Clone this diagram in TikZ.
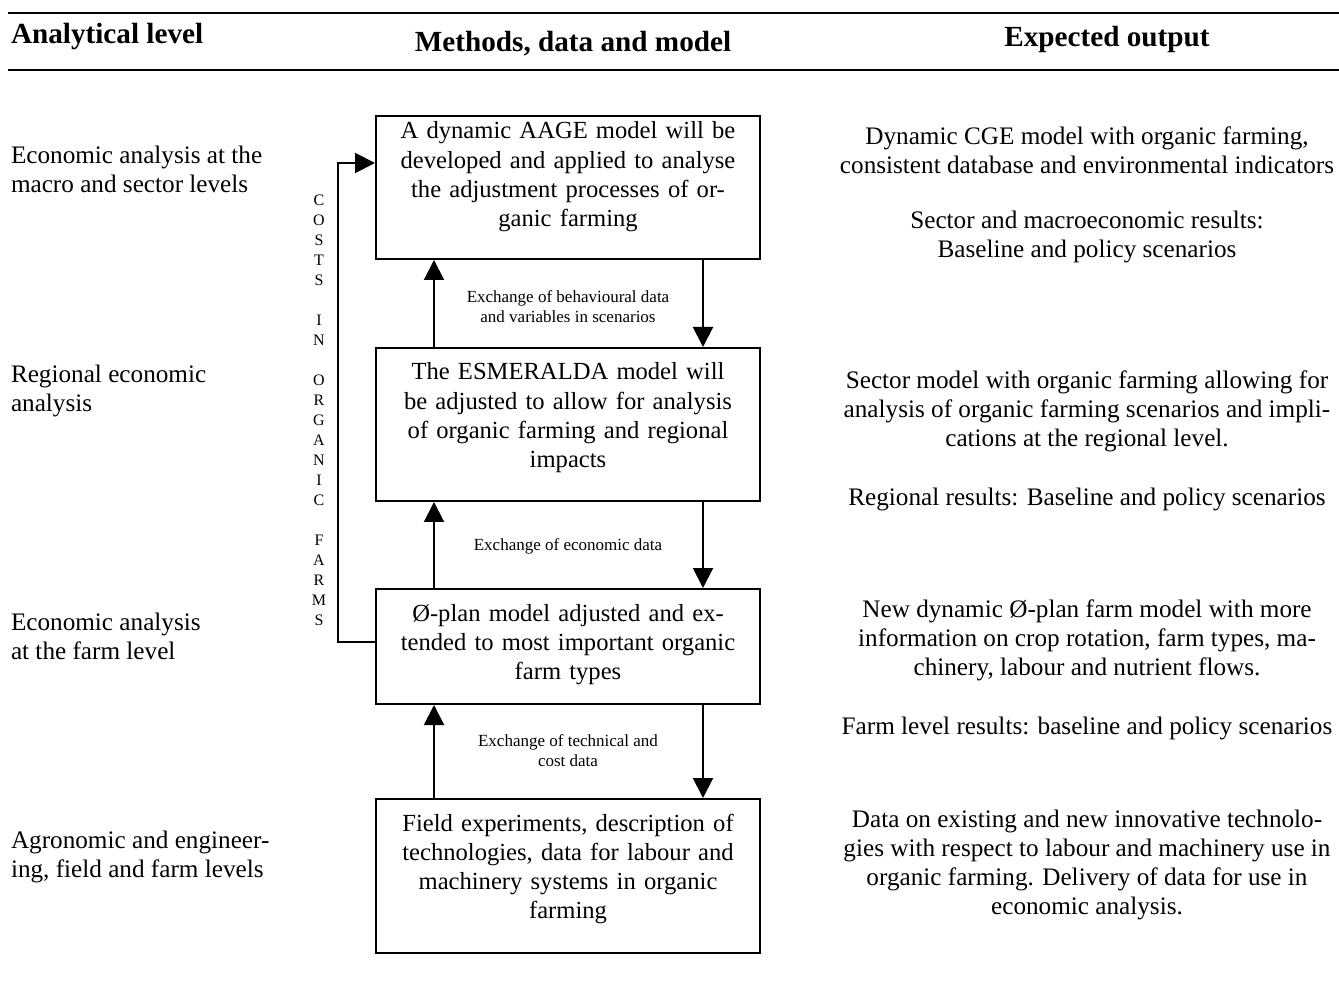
\documentclass[tikz,border=0pt]{standalone}
\usepackage{fontspec}
\setmainfont{Liberation Serif}
\usetikzlibrary{arrows.meta}

\begin{document}
\begin{tikzpicture}[x=0.5pt, y=-0.5pt, line width=1pt,
    txt/.style={font=\fontsize{12.6}{14.5}\selectfont, inner sep=0pt},
    head/.style={font=\fontsize{14.6}{16}\selectfont\bfseries, inner sep=0pt},
    small/.style={font=\fontsize{8.5}{10}\selectfont, inner sep=0pt, align=center},
    modelbox/.style={draw, font=\fontsize{12.3}{14.6}\selectfont, align=center, text width=180pt, inner xsep=6pt, inner ysep=0pt, anchor=north},
    flow/.style={arrows={-Triangle[width=10pt, length=10pt]}}]

    \useasboundingbox (0,0) rectangle (1339,1005);

    \draw[line width=1.25pt] (8,13) -- (1339,13);
    \draw[line width=1.25pt] (8,70) -- (1339,70);

    \path node (hlevel) [head, anchor=west] at (10,37) {Analytical level};
    \path node (hmeth) [head] at (573,44) {Methods, data and model};
    \path node (hout) [head] at (1107,39) {Expected output};

    \path node (lmacro) [txt, align=left, anchor=west] at (10,169.5) {Economic analysis at the\\macro and sector levels};
    \path node (lreg) [txt, align=left, anchor=west] at (10,390.5) {Regional economic\\analysis};
    \path node (lfarm) [txt, align=left, anchor=west] at (10,636) {Economic analysis\\at the farm level};
    \path node (lagro) [txt, align=left, anchor=west] at (10,857) {Agronomic and engineer-\\ing, field and farm levels};

    \path node (aage) [modelbox, text height=11.5pt, text depth=60pt] at (568,115) {A dynamic AAGE model will be\\developed and applied to analyse\\the adjustment processes of or-\\ganic farming};
    \path node (esm) [modelbox, text height=16pt, text depth=60.5pt] at (568,347) {The ESMERALDA model will\\be adjusted to allow for analysis\\of organic farming and regional\\impacts};
    \path node (oplan) [modelbox, text height=16pt, text depth=41.5pt] at (568,588) {Ø-plan model adjusted and ex-\\tended to most important organic\\farm types};
    \path node (field) [modelbox, text height=16pt, text depth=61pt] at (568,798) {Field experiments, description of\\technologies, data for labour and\\machinery systems in organic\\farming};

    \coordinate (upx) at (434,0);
    \coordinate (dnx) at (703,0);
    \draw[flow] (esm.north -| upx) -- (aage.south -| upx);
    \draw[flow] (aage.south -| dnx) -- (esm.north -| dnx);
    \draw[flow] (oplan.north -| upx) -- (esm.south -| upx);
    \draw[flow] (esm.south -| dnx) -- (oplan.north -| dnx);
    \draw[flow] (field.north -| upx) -- (oplan.south -| upx);
    \draw[flow] (oplan.south -| dnx) -- (field.north -| dnx);

    \path node (exa) [small] at (568,307) {Exchange of behavioural data\\and variables in scenarios};
    \path node (exb) [small] at (568,546) {Exchange of economic data};
    \path node (exc) [small] at (568,751) {Exchange of technical and\\cost data};

    \coordinate (fb) at (338,163);
    \coordinate (fa) at (376,642);
    \draw[flow] (oplan.west |- fa) -| (fb) -- (fb -| aage.west);
    \path node (costs) [font=\fontsize{8}{10}\selectfont, align=center, inner sep=0pt] at (319,410)
        {C\\O\\S\\T\\S\\[10pt]I\\N\\[10pt]O\\R\\G\\A\\N\\I\\C\\[10pt]F\\A\\R\\M\\S};

    \path node (rcge) [txt, align=center] at (1087,150.5) {Dynamic CGE model with organic farming,\\consistent database and environmental indicators};
    \path node (rmacro) [txt, align=center] at (1087,237) {Sector and macroeconomic results:\\Baseline and policy scenarios};
    \path node (rsec) [txt, align=center] at (1087,411) {Sector model with organic farming allowing for\\analysis of organic farming scenarios and impli-\\cations at the regional level.};
    \path node (rreg) [txt, align=center] at (1087,499) {Regional results: Baseline and policy scenarios};
    \path node (rnew) [txt, align=center] at (1087,640) {New dynamic Ø-plan farm model with more\\information on crop rotation, farm types, ma-\\chinery, labour and nutrient flows.};
    \path node (rfarm) [txt, align=center] at (1087,728) {Farm level results: baseline and policy scenarios};
    \path node (rdata) [txt, align=center] at (1087,865) {Data on existing and new innovative technolo-\\gies with respect to labour and machinery use in\\organic farming. Delivery of data for use in\\economic analysis.};

\end{tikzpicture}
\end{document}
